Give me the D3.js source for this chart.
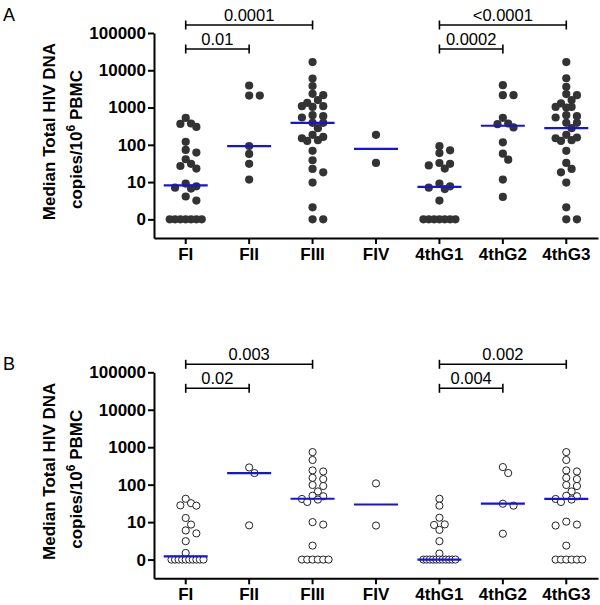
<!DOCTYPE html>
<meta charset="utf-8">
<script src="https://cdn.jsdelivr.net/npm/d3@7"></script>
<style>
  body { margin: 0; background: #fff; }
  text { font-family: "Liberation Sans", Arial, sans-serif; }
</style>
<div id="chart"></div>
<script>

// groups on the x axis
var categories = ["FI", "FII", "FIII", "FIV", "4thG1", "4thG2", "4thG3"];

// y axis ticks (0 is drawn where 1 would be on the log axis)
var yTicks = [0, 10, 100, 1000, 10000, 100000];

// panel A: copies / 10^6 PBMC, one array per group
var aFI    = [528, 373, 364, 302, 120, 73, 62, 41, 31, 27, 23, 9.1, 7.7, 7.1, 6.7, 4.1, 3.2, 0, 0, 0, 0, 0, 0, 0];
var aFII   = [3900, 2100, 2100, 93, 57, 31, 11.7];
var aFIII  = [16600, 6000, 3780, 2330, 2150, 1590, 1340, 1090, 1090, 1040, 626, 585, 540, 388, 388, 280, 185, 163, 150, 133, 127, 69, 38.5, 22.5, 18.3, 9.7, 2.1, 0, 0];
var aFIV   = [185, 32.6];
var a4thG1 = [92, 71, 60, 32.5, 31, 28, 23, 9.1, 7.7, 7.1, 6.5, 3.2, 0, 0, 0, 0, 0, 0, 0];
var a4thG2 = [3990, 2150, 2150, 530, 373, 357, 293, 117, 58, 40, 11.7, 4];
var a4thG3 = [16600, 6100, 3600, 2300, 2150, 1590, 1290, 1040, 1040, 1000, 626, 585, 540, 388, 388, 280, 185, 157, 150, 133, 127, 69, 32.6, 22.5, 18.3, 9.7, 2.1, 0, 0];
var aMedians = [8.2, 92, 388, 78, 7.4, 325, 280];

// panel B
var bFI    = [42, 32, 28, 27.5, 12.9, 8.6, 6, 5, 3.1, 1.5, 0, 0, 0, 0, 0, 0, 0, 0, 0, 0];
var bFII   = [288, 204, 8.2];
var bFIII  = [740, 455, 240, 225, 152, 141, 98, 92, 66, 50.6, 49, 41.5, 40, 34.5, 10, 8.6, 2.36, 0, 0, 0, 0, 0, 0];
var bFIV   = [108, 8.1];
var b4thG1 = [42, 27.5, 13.1, 8.7, 8.4, 6.2, 3.1, 1.45, 0, 0, 0, 0, 0, 0, 0, 0, 0, 0, 0];
var b4thG2 = [295, 204, 31, 27.5, 4.9];
var b4thG3 = [740, 455, 240, 225, 152, 141, 98, 92, 66, 50.6, 49, 41.5, 40, 34.5, 10.3, 8.6, 8.1, 2.36, 0, 0, 0, 0, 0, 0];
var bMedians = [1.22, 204, 42, 29.5, 1, 31, 41.5];

// p value brackets
var aBrackets = [
  {from: "FI", to: "FII", label: "0.01", level: 0},
  {from: "FI", to: "FIII", label: "0.0001", level: 1},
  {from: "4thG1", to: "4thG2", label: "0.0002", level: 0},
  {from: "4thG1", to: "4thG3", label: "<0.0001", level: 1}
];
var bBrackets = [
  {from: "FI", to: "FII", label: "0.02", level: 0},
  {from: "FI", to: "FIII", label: "0.003", level: 1},
  {from: "4thG1", to: "4thG2", label: "0.004", level: 0},
  {from: "4thG1", to: "4thG3", label: "0.002", level: 1}
];

var width = 600, height = 605;

var svg = d3.select("#chart")
  .append("svg")
  .attr("width", width)
  .attr("height", height);

// column scatter layout: points pushed sideways in fixed steps,
// rows of equal values squeezed into the column width
function swarm(values, cx, ypos, unit, dmin, rowMax, kmax) {
  var counts = d3.rollup(values, function(v) { return v.length; }, function(d) { return d; });
  var sorted = values.slice().sort(function(a, b) { return b - a; });
  var placed = [];
  var i = 0;
  while (i < sorted.length) {
    var v = sorted[i], n = counts.get(v), yy = ypos(v);
    if (n >= 3) {
      var step = Math.min(unit, rowMax / (n - 1));
      var k0 = Math.floor((n - 1) / 2);
      for (var j = 0; j < n; j++) placed.push({v: v, x: cx + (j - k0) * step, y: yy});
      i += n;
    } else {
      var cands = [0];
      for (var k = 1; k <= kmax; k++) cands.push(k, -k);
      var best = null, bestD = -1;
      for (var c = 0; c < cands.length; c++) {
        var x = cx + cands[c] * unit;
        var dm = d3.min(placed, function(p) { return Math.hypot(p.x - x, p.y - yy); });
        if (dm === undefined) dm = Infinity;
        if (dm >= dmin) { best = x; break; }
        if (dm > bestD) { bestD = dm; best = x; }
      }
      placed.push({v: v, x: best, y: yy});
      i += 1;
    }
  }
  return placed;
}

function drawPanel(opt) {
  var g = svg.append("g");

  var x = d3.scaleBand().domain(categories).range([154, 598]);
  var y = d3.scaleLog().domain([Math.pow(10, -0.5), 100000]).range([opt.bottom, opt.top]);
  var ypos = function(v) { return y(Math.max(v, 1)); };

  // axes
  var yAxis = g.append("g")
    .attr("transform", "translate(154,0)")
    .call(d3.axisLeft(y)
      .tickValues(yTicks.map(function(t) { return Math.max(t, 1); }))
      .tickFormat(function(d, i) { return yTicks[i]; })
      .tickSize(6).tickPadding(2).tickSizeOuter(0));
  var xAxis = g.append("g")
    .attr("transform", "translate(0," + opt.bottom + ")")
    .call(d3.axisBottom(x).tickSize(6).tickPadding(4).tickSizeOuter(0));

  [yAxis, xAxis].forEach(function(a) {
    a.select(".domain").attr("stroke", "#000").attr("stroke-width", 2);
    a.selectAll(".tick line").attr("stroke", "#000").attr("stroke-width", 2);
    a.selectAll(".tick text")
      .attr("fill", "#000")
      .style("font-family", '"Liberation Sans", Arial, sans-serif')
      .style("font-size", "17px")
      .style("font-weight", "bold");
  });

  // y axis title
  var title = g.append("text")
    .attr("transform", "rotate(-90)")
    .attr("text-anchor", "middle")
    .style("font-size", "17px")
    .style("font-weight", "bold");
  title.append("tspan")
    .attr("x", -((opt.top + opt.bottom) / 2 - 4))
    .attr("y", 55)
    .text("Median Total HIV DNA");
  var t2 = title.append("tspan")
    .attr("x", -((opt.top + opt.bottom) / 2 + 4))
    .attr("y", 82)
    .text("copies/10");
  t2.append("tspan").attr("dy", -7).style("font-size", "12px").text("6");
  t2.append("tspan").attr("dy", 7).text(" PBMC");

  // panel letter
  g.append("text")
    .attr("x", 3)
    .attr("y", opt.letterY)
    .style("font-size", "18px")
    .text(opt.letter);

  // points
  opt.groups.forEach(function(vals, gi) {
    var cx = x(categories[gi]) + x.bandwidth() / 2;
    var pts = swarm(vals, cx, ypos, 5.33, 6.8, 32, 2);
    g.append("g").selectAll("circle")
      .data(pts)
      .enter()
      .append("circle")
      .attr("cx", function(d) { return d.x; })
      .attr("cy", function(d) { return d.y; })
      .attr("r", opt.filled ? 4.1 : 3.6)
      .attr("fill", opt.filled ? "#333" : "#fff")
      .attr("stroke", opt.filled ? "none" : "#222")
      .attr("stroke-width", 1);
  });

  // medians
  g.append("g").selectAll("line")
    .data(opt.medians)
    .enter()
    .append("line")
    .attr("x1", function(d, i) { return x(categories[i]) + x.bandwidth() / 2 - 22; })
    .attr("x2", function(d, i) { return x(categories[i]) + x.bandwidth() / 2 + 22; })
    .attr("y1", function(d) { return ypos(d); })
    .attr("y2", function(d) { return ypos(d); })
    .attr("stroke", "#1414e0")
    .attr("stroke-width", 2.2);

  // brackets
  var mid = function(c) { return x(c) + x.bandwidth() / 2; };
  var by = function(d) { return d.level === 1 ? opt.top - 8 : opt.top + 16; };
  var br = g.append("g").selectAll("g")
    .data(opt.brackets)
    .enter()
    .append("g");
  br.append("line")
    .attr("x1", function(d) { return mid(d.from); })
    .attr("x2", function(d) { return mid(d.to); })
    .attr("y1", by).attr("y2", by);
  br.append("line")
    .attr("x1", function(d) { return mid(d.from); })
    .attr("x2", function(d) { return mid(d.from); })
    .attr("y1", function(d) { return by(d) - 4.5; })
    .attr("y2", function(d) { return by(d) + 4.5; });
  br.append("line")
    .attr("x1", function(d) { return mid(d.to); })
    .attr("x2", function(d) { return mid(d.to); })
    .attr("y1", function(d) { return by(d) - 4.5; })
    .attr("y2", function(d) { return by(d) + 4.5; });
  br.selectAll("line").attr("stroke", "#000").attr("stroke-width", 1.6);
  br.append("text")
    .attr("x", function(d) { return (mid(d.from) + mid(d.to)) / 2; })
    .attr("y", function(d) { return by(d) - 4; })
    .attr("text-anchor", "middle")
    .style("font-size", "16.5px")
    .text(function(d) { return d.label; });
}

drawPanel({
  letter: "A", letterY: 21, top: 33, bottom: 238, filled: true,
  groups: [aFI, aFII, aFIII, aFIV, a4thG1, a4thG2, a4thG3],
  medians: aMedians, brackets: aBrackets
});

drawPanel({
  letter: "B", letterY: 370, top: 372.3, bottom: 578.3, filled: false,
  groups: [bFI, bFII, bFIII, bFIV, b4thG1, b4thG2, b4thG3],
  medians: bMedians, brackets: bBrackets
});

</script>
